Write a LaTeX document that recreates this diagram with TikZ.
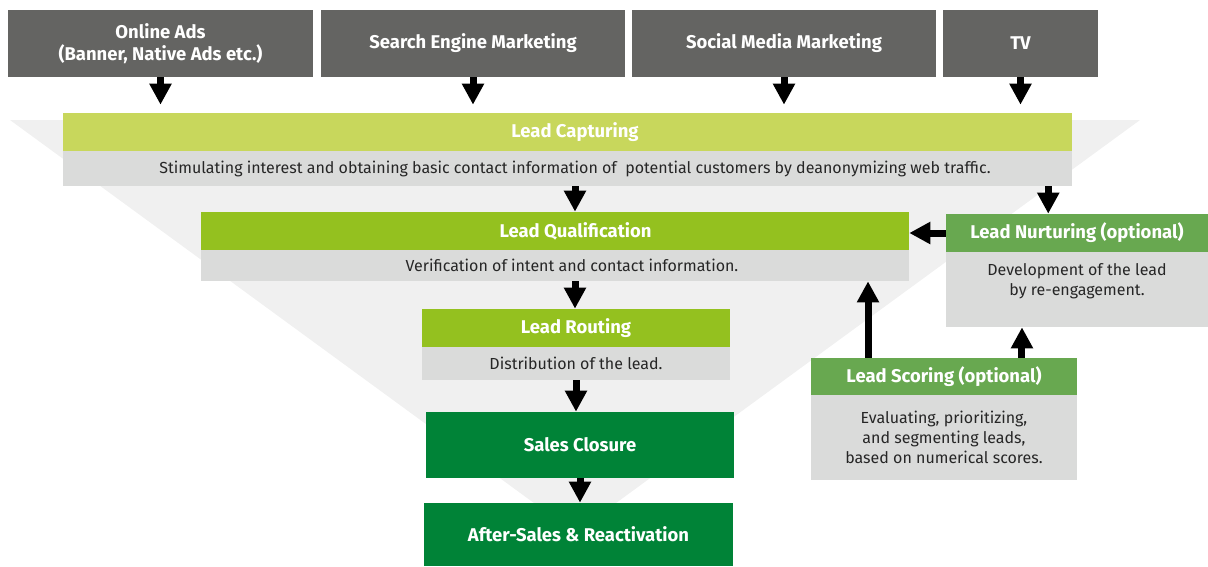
\documentclass[tikz,border=0pt]{standalone}
\usepackage{fontspec}
\setmainfont{Fira Sans}
\usepackage{tikz}
\usetikzlibrary{arrows.meta}
\definecolor{srcgray}{RGB}{100,100,98}
\definecolor{descgray}{RGB}{218,219,218}
\definecolor{funnelgray}{RGB}{240,240,240}
\definecolor{captgreen}{RGB}{200,215,92}
\definecolor{qualgreen}{RGB}{148,193,31}
\definecolor{optgreen}{RGB}{104,168,80}
\definecolor{salesgreen}{RGB}{0,131,55}

\begin{document}
\begin{tikzpicture}[x=0.02cm, y=-0.02cm,
		src/.style={fill=srcgray, text=white, font=\fontsize{10.5}{12.5}\selectfont\bfseries, align=center, inner sep=0pt, minimum height=1.34cm},
		head/.style={text=white, font=\fontsize{10.5}{12}\selectfont\bfseries, inner sep=0pt, minimum height=0.76cm},
		desc/.style={fill=descgray, text=black!85, font=\fontsize{9.1}{11.5}\selectfont, align=center, inner sep=0pt},
		arr/.style={line width=0.14cm, -{Triangle[width=0.42cm,length=0.42cm]}}]
	\useasboundingbox (0,0) rectangle (1208,566);
	% funnel in the back
	\fill[funnelgray] (10,120) -- (1140,120) -- (575,533) -- cycle;
	\coordinate (axis) at (575,0);

	% channels
	\node[src, minimum width=6.1cm] (ads) at (160.5,43.5) {Online Ads\\(Banner, Native Ads etc.)};
	\node[src, minimum width=6.08cm] (sem) at (473,43.5) {Search Engine Marketing};
	\node[src, minimum width=6.08cm] (smm) at (784,43.5) {Social Media Marketing};
	\node[src, minimum width=3.1cm] (tv) at (1020.5,43.5) {TV};

	% main stages
	\node[head, fill=captgreen, minimum width=20.18cm] (capt) at (567.5,132) {\hspace*{0.3cm}Lead Capturing};
	\node[desc, minimum width=20.18cm, minimum height=0.7cm] (captdesc) at (567.5,168.5) {\hspace*{0.3cm}Stimulating interest and obtaining basic contact information of~ potential customers by deanonymizing web traffic.};
	\node[head, fill=qualgreen, minimum width=14.16cm] (qual) at (555,231) {\hspace*{0.82cm}Lead Qualification};
	\node[desc, minimum width=14.16cm, minimum height=0.62cm] (qualdesc) at (555,265.5) {\hspace*{0.68cm}Verification of intent and contact information.};
	\node[head, fill=qualgreen, minimum width=6.16cm] (route) at (576,328) {Lead Routing};
	\node[desc, minimum width=6.16cm, minimum height=0.66cm] (routedesc) at (576,363.5) {Distribution of the lead.};
	\node[head, fill=salesgreen, minimum width=6.16cm, minimum height=1.32cm] (close) at (580,445) {Sales Closure};
	\node[head, fill=salesgreen, minimum width=6.18cm, minimum height=1.26cm] (after) at (578.5,534.5) {After-Sales \& Reactivation};

	% optional stages
	\node[head, fill=optgreen, minimum width=5.24cm] (nurt) at (1077,233) {Lead Nurturing (optional)};
	\node[desc, minimum width=5.24cm, minimum height=1.5cm] (nurtdesc) at (1077,289.5) {Development of the lead\\by re-engagement.\\\mbox{}};
	\node[head, fill=optgreen, minimum width=5.32cm, minimum height=0.74cm] (score) at (944,376.5) {Lead Scoring (optional)};
	\node[desc, minimum width=5.32cm, minimum height=1.7cm] (scoredesc) at (944,437.5) {Evaluating, prioritizing,\\and segmenting leads,\\based on numerical scores.};

	% arrows
	\foreach \s in {ads,sem,smm,tv}
		\draw[arr, shorten >=0.16cm] (\s.south) -- (\s.south |- capt.north);
	\draw[arr] (captdesc.south -| axis) -- (qual.north -| axis);
	\draw[arr] ([xshift=-0.48cm]captdesc.south east) -- ([xshift=-0.48cm]captdesc.south east |- nurt.north);
	\draw[arr] (qualdesc.south -| axis) -- (route.north -| axis);
	\draw[arr] (routedesc.south) -- (routedesc.south |- close.north);
	\draw[arr] (close.south) -- (close.south |- after.north);
	\draw[arr] (nurt.west) -- (nurt.west -| qual.east);
	\draw[arr] ([xshift=-1.52cm]score.north) -- ([xshift=-1.52cm]score.north |- qualdesc.south);
	\draw[arr] ([xshift=1.56cm]score.north) -- ([xshift=1.56cm]score.north |- nurtdesc.south);
\end{tikzpicture}
\end{document}
